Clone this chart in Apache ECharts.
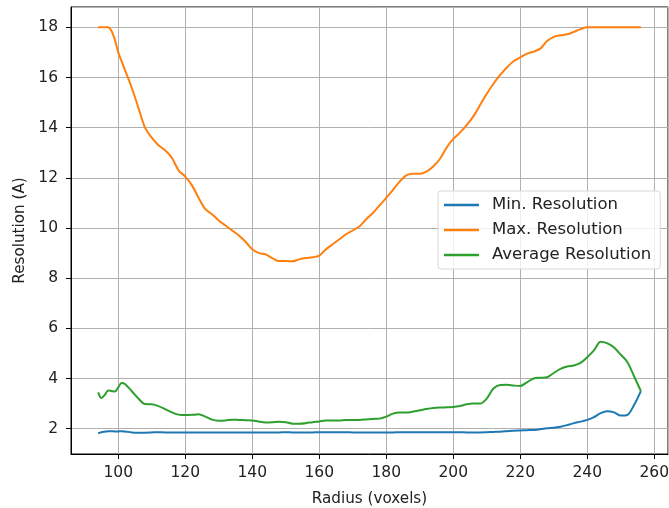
<!DOCTYPE html>
<html>
<head>
<meta charset="utf-8">
<script src="https://cdn.jsdelivr.net/npm/echarts@6/dist/echarts.min.js"></script>
<style>
  html, body { margin: 0; padding: 0; background: #fff; }
  #chart { width: 669px; height: 508px; }
</style>
</head>
<body>
<div id="chart"></div>
<script>
// radius values (voxels)
const radius = [
  94, 95, 96, 97, 98, 99, 100, 101, 102,
  104, 106, 108, 110, 112, 114, 116, 118, 120, 122, 124, 126, 128, 130,
  132, 134, 136, 138, 140, 142, 144, 146, 148, 150, 152, 154, 156, 158, 160,
  162, 164, 166, 168, 170, 172, 174, 176, 178, 180, 182, 184, 186, 188, 190,
  192, 194, 196, 198, 200, 202, 204, 206, 208, 210, 212, 214, 216, 218, 220,
  222, 224, 226, 228, 230, 232, 234, 236, 238, 240, 242, 244, 246, 248, 250,
  252, 254, 256
]

const minRes = [
  1.82, 1.86, 1.88, 1.9, 1.9, 1.89, 1.89, 1.9, 1.89,
  1.85, 1.84, 1.84, 1.85, 1.86, 1.85, 1.85, 1.85, 1.85, 1.85, 1.85, 1.85, 1.85, 1.85,
  1.85, 1.85, 1.85, 1.85, 1.85, 1.85, 1.85, 1.85, 1.85, 1.86, 1.85, 1.85, 1.85, 1.85, 1.86,
  1.86, 1.86, 1.86, 1.86, 1.85, 1.85, 1.85, 1.85, 1.85, 1.85, 1.85, 1.86, 1.86, 1.86, 1.86,
  1.86, 1.86, 1.86, 1.86, 1.86, 1.86, 1.85, 1.85, 1.85, 1.86, 1.87, 1.88, 1.9, 1.92, 1.93,
  1.94, 1.95, 1.98, 2.02, 2.04, 2.08, 2.14, 2.22, 2.28, 2.35, 2.46, 2.62, 2.69, 2.65, 2.52,
  2.55, 2.95, 3.5
]

const maxRes = [
  18, 18, 18, 18, 17.85, 17.5, 17.0, 16.65, 16.3,
  15.6, 14.8, 14.0, 13.6, 13.3, 13.1, 12.8, 12.3, 12.05, 11.7, 11.2, 10.75, 10.55, 10.3,
  10.1, 9.9, 9.7, 9.45, 9.15, 9.0, 8.95, 8.8, 8.68, 8.68, 8.67, 8.75, 8.8, 8.83, 8.9,
  9.15, 9.35, 9.55, 9.75, 9.9, 10.06, 10.35, 10.6, 10.9, 11.2, 11.52, 11.85, 12.1, 12.16, 12.16,
  12.25, 12.45, 12.75, 13.2, 13.55, 13.8, 14.1, 14.45, 14.9, 15.35, 15.75, 16.1, 16.4, 16.65, 16.8,
  16.95, 17.03, 17.15, 17.45, 17.62, 17.68, 17.72, 17.82, 17.93, 18, 18, 18, 18, 18, 18,
  18, 18, 18
]

const avgRes = [
  3.45, 3.22, 3.35, 3.52, 3.5, 3.48, 3.65, 3.82, 3.78,
  3.5, 3.2, 2.98, 2.97, 2.9, 2.78, 2.65, 2.56, 2.54, 2.55, 2.57, 2.48, 2.36, 2.32,
  2.33, 2.36, 2.35, 2.34, 2.33, 2.28, 2.25, 2.26, 2.28, 2.26, 2.2, 2.2, 2.22, 2.26, 2.29,
  2.33, 2.33, 2.33, 2.35, 2.35, 2.35, 2.37, 2.39, 2.4, 2.48, 2.6, 2.64, 2.64, 2.68, 2.73,
  2.78, 2.82, 2.84, 2.85, 2.86, 2.9, 2.97, 3.0, 3.0, 3.2, 3.6, 3.74, 3.75, 3.72, 3.7,
  3.85, 4.0, 4.03, 4.05, 4.22, 4.38, 4.48, 4.52, 4.62, 4.85, 5.12, 5.46, 5.4, 5.24, 4.95,
  4.65, 4.08, 3.5
]

const seriesNames = ['Min. Resolution', 'Max. Resolution', 'Average Resolution']
const seriesColors = ['#1f77b4', '#ff7f0e', '#2ca02c']
const seriesValues = [minRes, maxRes, avgRes]

const font = 'DejaVu Sans'

const chart = echarts.init(document.getElementById('chart'))

const option = {
  animation: false,
  textStyle: { fontFamily: font },
  grid: {
    left: 71,
    top: 7,
    right: 1,
    bottom: 54,
    outerBoundsMode: 'none',
    show: true,
    borderColor: '#000',
    borderWidth: 1
  },
  legend: {
    orient: 'vertical',
    left: 438,
    top: 191,
    itemWidth: 35,
    itemHeight: 2.5,
    itemGap: 5,
    icon: 'rect',
    padding: [4, 9, 4, 6],
    backgroundColor: 'rgba(255,255,255,0.8)',
    borderColor: '#d6d6d6',
    borderWidth: 1,
    borderRadius: 3,
    textStyle: {
      fontFamily: font, fontSize: 16.5, color: '#222',
      lineHeight: 20, padding: [0, 0, 0, 8]
    },
    data: seriesNames
  },
  xAxis: {
    type: 'value',
    min: 85.9,
    max: 264.1,
    splitNumber: 9,
    name: 'Radius (voxels)',
    nameLocation: 'middle',
    nameGap: 38,
    nameTextStyle: { fontFamily: font, fontSize: 15.2, color: '#222' },
    axisLine: { lineStyle: { color: '#000' } },
    axisTick: { show: true, length: 5, lineStyle: { color: '#000' } },
    axisLabel: {
      margin: 11, fontSize: 15.5, color: '#222', fontFamily: font,
      showMinLabel: false, showMaxLabel: false
    },
    splitLine: { show: true, lineStyle: { color: '#b0b0b0', width: 1 } }
  },
  yAxis: {
    type: 'value',
    min: 0.99,
    max: 18.81,
    splitNumber: 9,
    name: 'Resolution (A)',
    nameLocation: 'middle',
    nameGap: 43,
    nameTextStyle: { fontFamily: font, fontSize: 15.2, color: '#222' },
    axisLine: { show: true, lineStyle: { color: '#000' } },
    axisTick: { show: true, length: 5, lineStyle: { color: '#000' } },
    axisLabel: {
      margin: 13, fontSize: 15.5, color: '#222', fontFamily: font,
      showMinLabel: false, showMaxLabel: false
    },
    splitLine: { show: true, lineStyle: { color: '#b0b0b0', width: 1 } }
  },
  series: seriesNames.map((name, i) => ({
    name: name,
    type: 'line',
    symbol: 'none',
    smooth: 0.3,
    color: seriesColors[i],
    lineStyle: { width: 2, color: seriesColors[i] },
    data: radius.map((r, j) => [r, seriesValues[i][j]])
  }))
}

chart.setOption(option)
</script>
</body>
</html>
